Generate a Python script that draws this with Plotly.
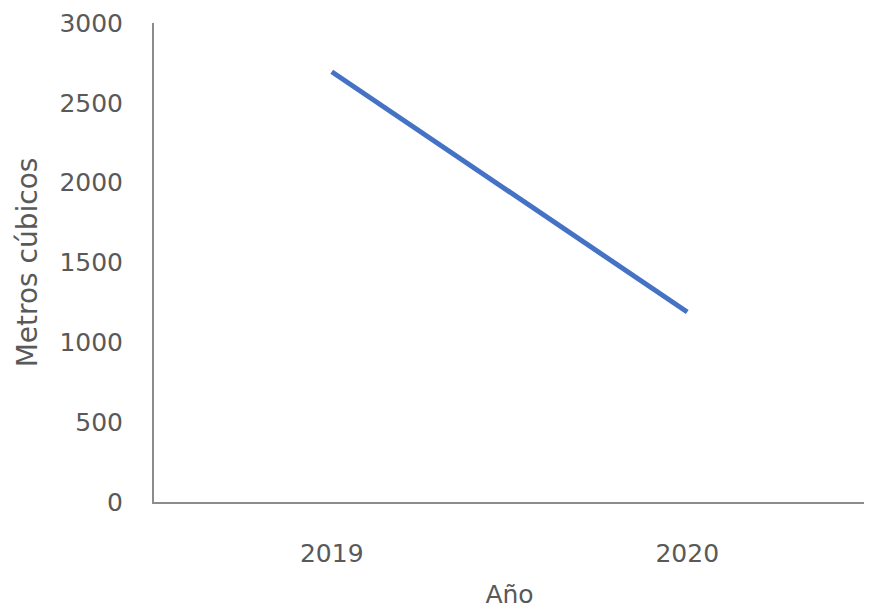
import plotly.graph_objects as go

years = ["2019", "2020"]
volumes = [2695, 1190]
y_ticks = [0, 500, 1000, 1500, 2000, 2500, 3000]

font_family = "DejaVu Sans"
text_color = "#595959"
axis_color = "#8c8c8c"

fig = go.Figure()
fig.add_trace(go.Scatter(
    x=years, y=volumes, mode="lines",
    line=dict(color="#4472C4", width=5),
    showlegend=False,
))

fig.update_layout(
    width=864, height=601,
    margin=dict(l=146, r=7, t=15, b=107),
    paper_bgcolor="white", plot_bgcolor="white",
    font=dict(family=font_family, color=text_color, size=26),
)
fig.update_xaxes(
    type="category", range=[-0.5, 1.5], automargin=False,
    showgrid=False, zeroline=False,
    showline=True, linecolor=axis_color, linewidth=2,
    ticks="", ticklabelstandoff=28,
    tickfont=dict(size=25, color=text_color),
    title=dict(text="Año", font=dict(size=25, color=text_color), standoff=20),
)
fig.update_yaxes(
    range=[0, 3000], tickvals=y_ticks, automargin=False,
    showgrid=False, zeroline=False,
    showline=True, linecolor=axis_color, linewidth=2,
    ticks="", ticklabelstandoff=24,
    tickfont=dict(size=25, color=text_color),
    title=dict(text="Metros cúbicos", font=dict(size=28, color=text_color), standoff=14),
)

fig.write_html("out.html")
